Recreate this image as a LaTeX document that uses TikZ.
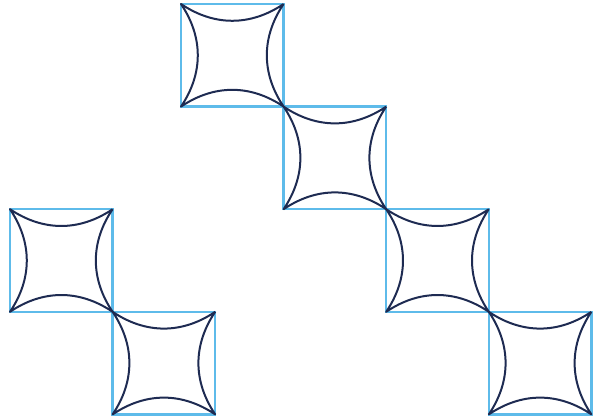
\documentclass[tikz,border=0pt]{standalone}
\usepackage{tikz}
\usetikzlibrary{positioning}
\definecolor{tileblue}{HTML}{5EBBEA}
\definecolor{curvenavy}{HTML}{1E2B52}

\begin{document}
\begin{tikzpicture}[x=1pt, y=1pt,
            every node/.style={
            draw=tileblue,
            line width=2.3pt,
            inner sep=0pt,
            outer sep=0pt,
            minimum size=102.6pt},
            curve/.style={draw=curvenavy, line width=2pt, line join=round}]
            \useasboundingbox (0,0) rectangle (600,418);
            \node (t1) at (232.3,362.7) {};
            \node (t2) at (334.9,260.1) {};
            \node (t3) at (437.5,157.5) {};
            \node (t4) at (540.1,54.9) {};
            \node (l1) at (61.3,157.5) {};
            \node (l2) at (163.9,54.9) {};
            \foreach \t in {t1,t2,t3,t4,l1,l2}
                \draw[curve] (\t.north east) to[bend left=34] (\t.north west)
                    to[bend left=34] (\t.south west)
                    to[bend left=34] (\t.south east)
                    to[bend left=34] (\t.north east);
        \end{tikzpicture}
\end{document}
